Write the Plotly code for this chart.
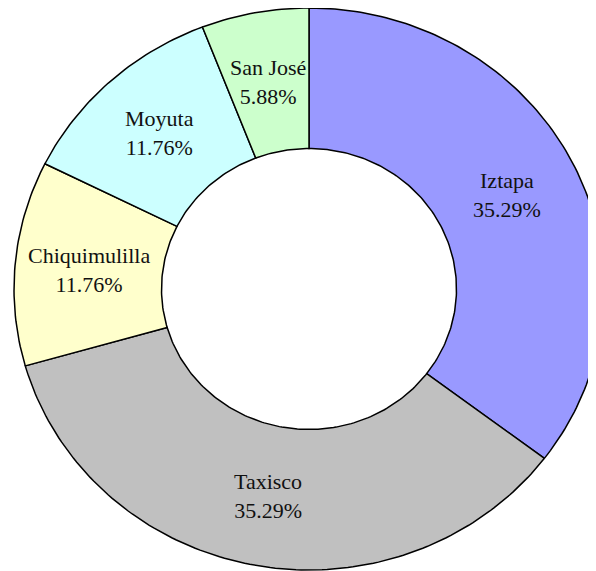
import numpy as np
import plotly.graph_objects as go

labels = ["Iztapa", "Taxisco", "Chiquimulilla", "Moyuta", "San José"]
values = [6, 6, 2, 2, 1]
colors = ["#9999FF", "#C0C0C0", "#FFFFCC", "#CCFFFF", "#CCFFCC"]

# figure sized so that, with the page's 8px body margin, it fills the window
W, H = 588, 563
cx, cy = 301, 281      # centre of the donut, in figure pixels
RX, RY = 295, 281      # the reference donut is slightly elliptical
HOLE = 0.5

fig = go.Figure()

total = sum(values)
fractions = np.array(values, dtype=float) / total
starts = np.concatenate([[0.0], np.cumsum(fractions)[:-1]])

annotations = []
for lab, frac, s, col in zip(labels, fractions, starts, colors):
    a0, a1 = s * 2 * np.pi, (s + frac) * 2 * np.pi
    n = max(8, int(frac * 360))
    th = np.linspace(a0, a1, n)
    xs = np.concatenate([np.sin(th), HOLE * np.sin(th[::-1]), [np.sin(a0)]])
    ys = np.concatenate([np.cos(th), HOLE * np.cos(th[::-1]), [np.cos(a0)]])
    fig.add_trace(go.Scatter(
        x=xs, y=ys, mode="lines", fill="toself", fillcolor=col,
        line=dict(color="#000000", width=1.5), name=lab,
        hoverinfo="text", text=f"{lab}: {frac * 100:.2f}%",
        showlegend=False,
    ))
    mid = (a0 + a1) / 2
    rm = (1 + HOLE) / 2
    annotations.append(dict(
        x=rm * np.sin(mid), y=rm * np.cos(mid), xref="x", yref="y",
        text=f"{lab}<br>{frac * 100:.2f}%",
        showarrow=False, xanchor="center", yanchor="middle",
        font=dict(family="Liberation Serif", size=22, color="#111111"),
    ))

fig.update_layout(
    width=W, height=H,
    margin=dict(l=0, r=0, t=0, b=0),
    paper_bgcolor="white",
    plot_bgcolor="white",
    annotations=annotations,
    xaxis=dict(range=[-cx / RX, (W - cx) / RX], visible=False, fixedrange=True),
    yaxis=dict(range=[-(H - cy) / RY, cy / RY], visible=False, fixedrange=True),
)

fig.write_html("out.html")
